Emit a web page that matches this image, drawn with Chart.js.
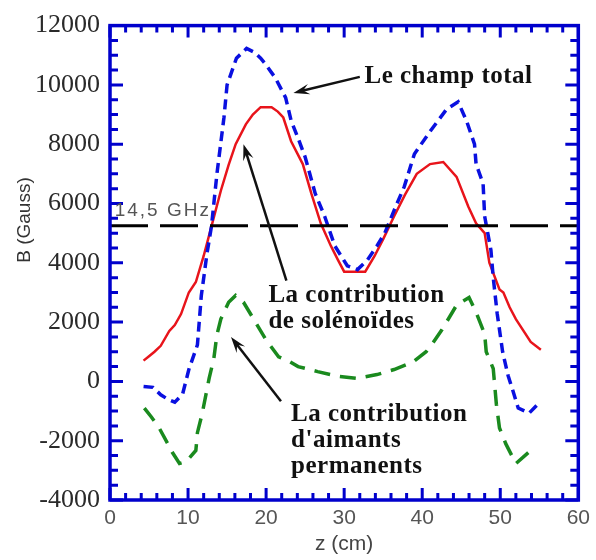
<!DOCTYPE html>
<html>
<head>
<meta charset="utf-8">
<script src="https://cdn.jsdelivr.net/npm/chart.js@4.4.1/dist/chart.umd.min.js"></script>
<style>
  html, body { margin: 0; padding: 0; background: #fff; }
  #wrap { width: 596px; height: 560px; }
</style>
</head>
<body>
<div id="wrap"><canvas id="fieldChart" width="596" height="560"></canvas></div>
<script>
// z (cm) and B (Gauss)
const zSolenoid = [4.3, 5.0, 5.7, 6.5, 7.6, 8.3, 9.1, 10.1, 11.0, 12.0, 13.0, 14.2, 15.2, 16.1, 17.4, 18.3, 19.3, 20.7, 21.5, 22.2, 23.2, 24.7, 25.8, 27.0, 28.3, 29.2, 30.0, 32.7, 33.9, 35.0, 36.4, 37.8, 39.3, 41.0, 42.7, 44.4, 45.9, 46.9, 48.0, 48.6, 49.9, 50.4, 51.2, 52.0, 53.9, 55.2];
const bSolenoid = [700, 850, 1000, 1200, 1700, 1900, 2270, 3000, 3350, 4230, 5230, 6430, 7300, 8000, 8670, 9000, 9250, 9250, 9100, 8900, 8100, 7330, 6330, 5330, 4570, 4100, 3700, 3700, 4230, 4800, 5570, 6300, 7000, 7330, 7400, 6900, 5900, 5330, 5000, 4000, 3100, 3000, 2500, 2100, 1330, 1070];

const zTotal = [4.3, 5.5, 6.5, 7.4, 8.3, 9.3, 10.1, 11.2, 11.7, 12.1, 12.4, 13.0, 13.7, 14.6, 15.0, 16.2, 17.5, 18.5, 19.3, 20.0, 21.2, 22.5, 23.2, 24.1, 25.0, 26.3, 27.5, 28.8, 30.4, 31.7, 33.0, 34.2, 35.2, 36.4, 37.7, 39.0, 41.0, 43.1, 44.6, 45.7, 46.7, 46.9, 47.8, 48.0, 48.8, 49.1, 49.6, 50.3, 51.0, 51.6, 52.3, 53.7, 54.8];
const bTotal = [-170, -200, -450, -600, -700, -430, 400, 1230, 2900, 3670, 4270, 5230, 7000, 8900, 10000, 10900, 11230, 11100, 10900, 10670, 10230, 9570, 8800, 8200, 7570, 6330, 5570, 4570, 3900, 3770, 4100, 4570, 5000, 5770, 6570, 7670, 8430, 9170, 9430, 8770, 8000, 7330, 6670, 5570, 4430, 3500, 2300, 1000, 200, -300, -900, -1070, -770];

const zMagnets = [4.4, 5.3, 6.3, 7.4, 8.0, 8.9, 9.8, 11.0, 11.2, 11.8, 12.7, 13.3, 13.7, 14.2, 15.2, 16.1, 17.1, 18.4, 20.0, 21.6, 22.8, 24.1, 26.6, 29.2, 31.7, 34.2, 36.4, 38.9, 40.5, 41.2, 42.5, 44.4, 46.0, 46.9, 48.0, 48.2, 49.1, 49.5, 49.9, 50.7, 52.0, 53.9];
const bMagnets = [-900, -1200, -1570, -2100, -2400, -2770, -2700, -2330, -1730, -1100, 100, 770, 1570, 2100, 2670, 2900, 2670, 2100, 1400, 830, 700, 500, 330, 170, 100, 230, 400, 670, 1000, 1230, 1730, 2570, 2830, 2330, 1600, 1000, 430, -770, -1570, -2100, -2770, -2330];

// 14,5 GHz resonance level
const zResonance = [0, 60];
const bResonance = [5250, 5250];

const xTickValues = [0, 10, 20, 30, 40, 50, 60];
const yTickValues = [-4000, -2000, 0, 2000, 4000, 6000, 8000, 10000, 12000];

const toPoints = (xs, ys) => xs.map((x, i) => ({ x: x, y: ys[i] }));

const frameColor = '#0000cc';
const textFont = 'bold 25px "Liberation Serif", "Times New Roman", serif';

// notes and arrows, placed in data units
const notes = [
  { lines: ['Le champ total'], z: 32.6, b: 10070 },
  { lines: ['La contribution', 'de solénoïdes'], z: 20.3, b: 2670 },
  { lines: ['La contribution', "d'aimants", 'permanents'], z: 23.2, b: -1330 }
];
const arrows = [
  { from: [32.0, 10270], to: [23.5, 9730] },
  { from: [22.6, 3400], to: [17.1, 8000] },
  { from: [21.9, -670], to: [15.5, 1500] }
];

function drawArrow(ctx, x1, y1, x2, y2) {
  const ang = Math.atan2(y2 - y1, x2 - x1);
  const len = 17, spread = 0.32;
  ctx.beginPath();
  ctx.moveTo(x1, y1);
  ctx.lineTo(x2 - 8 * Math.cos(ang), y2 - 8 * Math.sin(ang));
  ctx.stroke();
  ctx.beginPath();
  ctx.moveTo(x2, y2);
  ctx.lineTo(x2 - len * Math.cos(ang - spread), y2 - len * Math.sin(ang - spread));
  ctx.lineTo(x2 - 10 * Math.cos(ang), y2 - 10 * Math.sin(ang));
  ctx.lineTo(x2 - len * Math.cos(ang + spread), y2 - len * Math.sin(ang + spread));
  ctx.closePath();
  ctx.fill();
}

const framePlugin = {
  id: 'frame',
  afterDatasetsDraw(chart) {
    const { ctx, chartArea: a, scales: { x, y } } = chart;
    ctx.save();
    ctx.strokeStyle = frameColor;
    ctx.lineWidth = 3;
    ctx.lineCap = 'butt';
    ctx.beginPath();
    // inward ticks on all four sides
    for (let v = -4000; v <= 12000; v += 500) {
      const py = y.getPixelForValue(v);
      const len = v % 2000 === 0 ? 13 : 8;
      ctx.moveTo(a.left, py); ctx.lineTo(a.left + len, py);
      ctx.moveTo(a.right, py); ctx.lineTo(a.right - len, py);
    }
    for (let v = 0; v <= 60; v += 2) {
      const px = x.getPixelForValue(v);
      const len = v % 10 === 0 ? 12 : 7;
      ctx.moveTo(px, a.bottom); ctx.lineTo(px, a.bottom - len);
      ctx.moveTo(px, a.top); ctx.lineTo(px, a.top + len);
    }
    ctx.stroke();
    ctx.lineWidth = 3.5;
    ctx.strokeRect(a.left, a.top, a.right - a.left, a.bottom - a.top);

    // resonance label
    ctx.fillStyle = '#555';
    ctx.font = '19px "Liberation Sans", Arial, sans-serif';
    ctx.letterSpacing = '2px';
    ctx.textBaseline = 'alphabetic';
    ctx.fillText('14,5 GHz', x.getPixelForValue(0.6), y.getPixelForValue(5000 + 800) + 7);
    ctx.letterSpacing = '0px';

    // y axis title
    ctx.save();
    ctx.translate(25, 220);
    ctx.rotate(-Math.PI / 2);
    ctx.textAlign = 'center';
    ctx.textBaseline = 'middle';
    ctx.fillStyle = '#333';
    ctx.font = '19px "Liberation Sans", Arial, sans-serif';
    ctx.fillText('B (Gauss)', 0, 0);
    ctx.restore();

    // annotations
    ctx.fillStyle = '#111';
    ctx.strokeStyle = '#111';
    ctx.lineWidth = 2.5;
    ctx.font = textFont;
    ctx.letterSpacing = '0.5px';
    notes.forEach(n => {
      const px = x.getPixelForValue(n.z);
      const py = y.getPixelForValue(n.b);
      n.lines.forEach((t, i) => ctx.fillText(t, px, py + i * 26));
    });
    ctx.letterSpacing = '0px';
    arrows.forEach(ar => {
      drawArrow(ctx,
        x.getPixelForValue(ar.from[0]), y.getPixelForValue(ar.from[1]),
        x.getPixelForValue(ar.to[0]), y.getPixelForValue(ar.to[1]));
    });
    ctx.restore();
  }
};

const ctx = document.getElementById('fieldChart').getContext('2d');

new Chart(ctx, {
  type: 'line',
  data: {
    datasets: [{
      label: 'Résonance 14,5 GHz',
      data: toPoints(zResonance, bResonance),
      borderColor: '#000',
      borderWidth: 3,
      borderDash: [38, 12],
      pointRadius: 0
    }, {
      label: 'Le champ total',
      data: toPoints(zTotal, bTotal),
      borderColor: '#0a10e0',
      borderWidth: 3.5,
      borderDash: [10, 6],
      pointRadius: 0
    }, {
      label: 'La contribution de solénoïdes',
      data: toPoints(zSolenoid, bSolenoid),
      borderColor: '#e8141b',
      borderWidth: 2.5,
      pointRadius: 0
    }, {
      label: "La contribution d'aimants permanents",
      data: toPoints(zMagnets, bMagnets),
      borderColor: '#1a8a1e',
      borderWidth: 3.5,
      borderDash: [16, 10],
      pointRadius: 0
    }]
  },
  options: {
    responsive: false,
    animation: false,
    events: [],
    layout: { padding: { left: 10, top: 20, right: 13, bottom: 0 } },
    scales: {
      x: {
        type: 'linear',
        min: 0,
        max: 60,
        afterBuildTicks: s => { s.ticks = xTickValues.map(v => ({ value: v })); },
        afterFit: s => { s.height = 60; },
        grid: { display: false, drawTicks: false },
        border: { display: false },
        ticks: {
          color: '#555',
          padding: 6,
          callback: v => String(v),
          font: { family: '"Liberation Sans", Arial, sans-serif', size: 21 }
        },
        title: {
          display: true,
          text: 'z (cm)',
          color: '#444',
          padding: { top: 0, bottom: 3 },
          font: { family: '"Liberation Sans", Arial, sans-serif', size: 21 }
        }
      },
      y: {
        type: 'linear',
        min: -4000,
        max: 12000,
        afterBuildTicks: s => { s.ticks = yTickValues.map(v => ({ value: v })); },
        afterFit: s => { s.width = 100; },
        grid: { display: false, drawTicks: false },
        border: { display: false },
        ticks: {
          color: '#2a2a2a',
          padding: 10,
          callback: v => String(v),
          font: { family: '"Liberation Serif", "Times New Roman", serif', size: 26 }
        }
      }
    },
    plugins: {
      legend: { display: false },
      tooltip: { enabled: false }
    }
  },
  plugins: [framePlugin]
});
</script>
</body>
</html>
